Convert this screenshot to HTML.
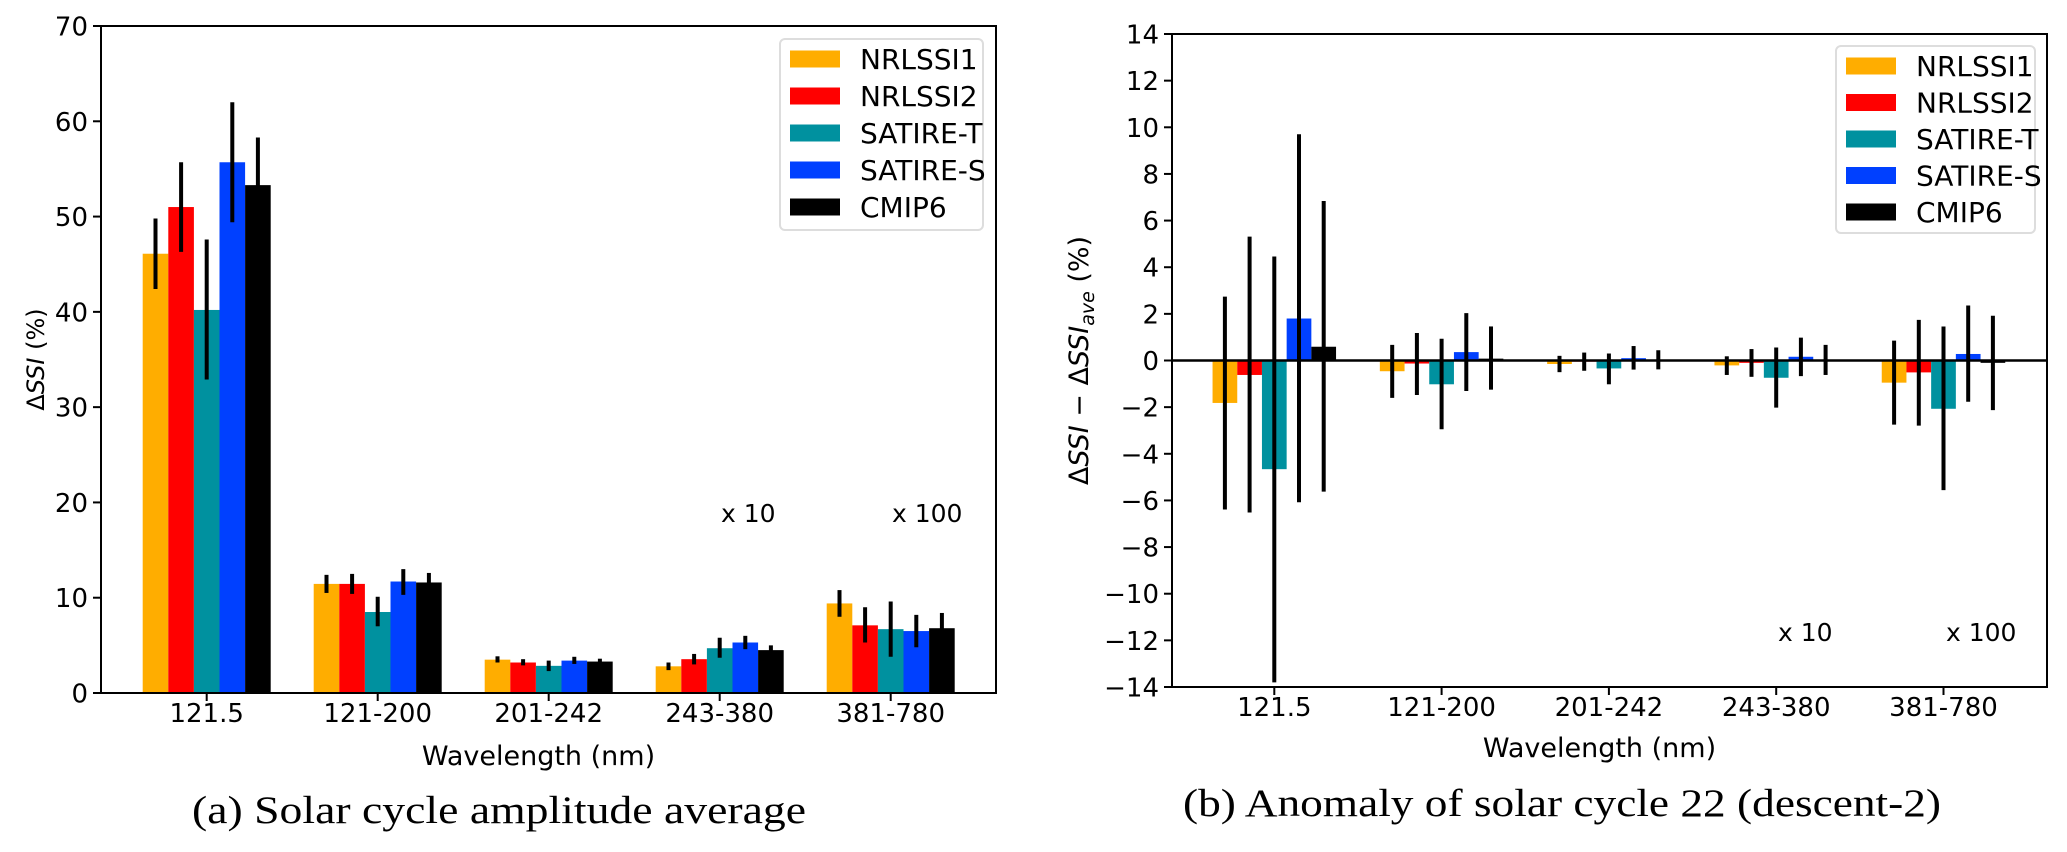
<!DOCTYPE html>
<html><head><meta charset="utf-8"><style>
html,body{margin:0;padding:0;background:#fff;}
svg{display:block;}
text{font-family:"DejaVu Sans","Liberation Sans",sans-serif;}
.cap{font-family:"Liberation Serif","DejaVu Serif",serif;}
</style></head><body>
<svg id="fig" width="2067" height="852" viewBox="0 0 2067 852" xmlns="http://www.w3.org/2000/svg">
<g id="pa"></g>
<g id="pb"></g>
<text class="cap" x="192" y="823" font-size="39" textLength="614" lengthAdjust="spacingAndGlyphs">(a)  Solar cycle amplitude average</text>
<text class="cap" x="1183" y="816" font-size="39" textLength="758" lengthAdjust="spacingAndGlyphs">(b)  Anomaly of solar cycle  22  (descent-2)</text>
</svg>
<script>
const categories = ["121.5","121-200","201-242","243-380","381-780"];
const seriesNames = ["NRLSSI1","NRLSSI2","SATIRE-T","SATIRE-S","CMIP6"];
const seriesColors = ["#ffad00","#ff0000","#00919f","#0040ff","#000000"];
// Panel (a): values, error lows, error highs  [series][category]
const aVals = [[46.1,11.45,3.5,2.8,9.4],[51.0,11.45,3.2,3.55,7.1],[40.2,8.5,2.85,4.7,6.7],[55.7,11.7,3.4,5.3,6.5],[53.3,11.6,3.3,4.5,6.8]];
const aLow  = [[42.4,10.5,3.2,2.4,8.0],[46.3,10.4,2.9,3.0,5.3],[32.9,7.0,2.3,3.7,3.8],[49.4,10.3,3.05,4.6,4.8],[48.3,10.6,3.0,3.8,5.2]];
const aHigh = [[49.8,12.4,3.85,3.2,10.8],[55.7,12.5,3.55,4.1,9.0],[47.6,10.1,3.4,5.8,9.6],[62.0,13.0,3.8,6.0,8.2],[58.3,12.6,3.6,5.0,8.4]];
const aTicks = [0,10,20,30,40,50,60,70];
// Panel (b)
const bVals = [[-1.82,-0.46,-0.15,-0.21,-0.95],[-0.62,-0.13,-0.05,-0.1,-0.51],[-4.66,-1.02,-0.34,-0.74,-2.07],[1.80,0.36,0.10,0.16,0.28],[0.59,0.08,0.0,0.0,-0.1]];
const bLow  = [[-6.39,-1.6,-0.5,-0.62,-2.75],[-6.52,-1.48,-0.44,-0.7,-2.79],[-13.8,-2.95,-1.02,-2.02,-5.56],[-6.08,-1.31,-0.39,-0.67,-1.77],[-5.62,-1.25,-0.38,-0.62,-2.13]];
const bHigh = [[2.74,0.67,0.2,0.18,0.85],[5.31,1.18,0.34,0.49,1.74],[4.46,0.93,0.3,0.56,1.46],[9.7,2.03,0.62,0.98,2.36],[6.84,1.46,0.44,0.67,1.92]];
const bTicks = [-14,-12,-10,-8,-6,-4,-2,0,2,4,6,8,10,12,14];
const scaleNotes = ["x 10","x 100"];

const NS="http://www.w3.org/2000/svg";
function mk(parent,tag,attrs,txt){const e=document.createElementNS(NS,tag);for(const k in attrs)e.setAttribute(k,attrs[k]);if(txt!==undefined)e.textContent=txt;parent.appendChild(e);return e;}

function drawPanel(g,cfg){
  const {L,R,T,B,ymin,ymax,first,step,bw,vals,lo,hi,ticks,zeroLine,legend,notes,ylab,ylabX,ylabFs,xlabY}=cfg;
  const y=v=>B-(v-ymin)/(ymax-ymin)*(B-T);
  const x=(ci,si)=>first+ci*step+(si-2)*bw;
  const base=y(Math.max(ymin,0));
  for(let s=0;s<vals.length;s++){
    for(let c=0;c<categories.length;c++){
      const v=vals[s][c];
      const r=mk(g,'rect',{x:x(c,s)-bw/2,y:Math.min(y(v),base),width:bw,height:Math.max(Math.abs(y(v)-base),0.5),fill:seriesColors[s]});
      
      
    }
  }
  for(let s=0;s<vals.length;s++){
    for(let c=0;c<categories.length;c++){
      const e=mk(g,'line',{x1:x(c,s),x2:x(c,s),y1:y(lo[s][c]),y2:y(hi[s][c]),stroke:'#000','stroke-width':4});
      
      
    }
  }
  if(zeroLine){const z=mk(g,'line',{x1:L,x2:R,y1:y(0),y2:y(0),stroke:'#000','stroke-width':2.5});
    }
  const fr=mk(g,'rect',{x:L,y:T,width:R-L,height:B-T,fill:'none',stroke:'#000','stroke-width':2});
  
  ticks.forEach(t=>{
    mk(g,'line',{x1:L-8,x2:L,y1:y(t),y2:y(t),stroke:'#000','stroke-width':2});
    const tx=mk(g,'text',{x:L-13,y:y(t)+9.5,'text-anchor':'end','font-size':26},t<0?'\u2212'+(-t):String(t));
    
  });
  categories.forEach((c,i)=>{
    const cx=first+i*step;
    mk(g,'line',{x1:cx,x2:cx,y1:B,y2:B+8,stroke:'#000','stroke-width':2});
    const tx=mk(g,'text',{x:cx,y:B+29,'text-anchor':'middle','font-size':26},c);
    
  });
  const xl=mk(g,'text',{x:(L+R)/2-10,y:B+xlabY,'text-anchor':'middle','font-size':27},'Wavelength (nm)');
  
  const yl=mk(g,'text',{x:0,y:0,'text-anchor':'middle','font-size':ylabFs,transform:`translate(${ylabX},${(T+B)/2}) rotate(-90)`});
  
  ylab.forEach(p=>{mk(yl,'tspan',p.a||{},p.t);});
  // legend
  const lb=mk(g,'rect',{x:legend.x,y:legend.y,width:legend.w,height:legend.h,rx:5,fill:'#fff','fill-opacity':0.9,stroke:'#ddd','stroke-width':2});
  
  seriesNames.forEach((n,i)=>{
    const cy=legend.y+20+i*legend.sp;
    const le=mk(g,'g',{});
    
    
    mk(le,'rect',{x:legend.x+10,y:cy-8.5,width:50,height:17,fill:seriesColors[i]});
    mk(le,'text',{x:legend.x+80,y:cy+10,'font-size':28},n);
  });
  notes.forEach((n,i)=>{
    const t=mk(g,'text',{x:n.x,y:n.y,'font-size':25},scaleNotes[i]);
    
  });
}

drawPanel(document.getElementById('pa'),{L:101,R:996,T:26,B:693,ymin:0,ymax:70,first:206.7,step:171,bw:25.6,
  vals:aVals,lo:aLow,hi:aHigh,ticks:aTicks,zeroLine:false,
  legend:{x:780,y:39,w:203,h:191,sp:37},
  notes:[{x:721,y:522},{x:892,y:522}],ylabX:44,ylabFs:24,xlabY:72,
  ylab:[{t:'\u0394'},{t:'SSI',a:{'font-style':'italic'}},{t:'  (%)'}]});

drawPanel(document.getElementById('pb'),{L:1172,R:2047,T:34,B:687,ymin:-14,ymax:14,first:1274.3,step:167.3,bw:24.7,
  vals:bVals,lo:bLow,hi:bHigh,ticks:bTicks,zeroLine:true,
  legend:{x:1836,y:46,w:199,h:187,sp:36.5},
  notes:[{x:1778,y:641},{x:1946,y:641}],ylabX:1088,ylabFs:27,xlabY:70,
  ylab:[{t:'\u0394'},{t:'SSI',a:{'font-style':'italic'}},{t:' \u2212 \u0394'},{t:'SSI',a:{'font-style':'italic'}},{t:'ave',a:{'font-style':'italic','font-size':19,dy:6}},{t:' (%)',a:{dy:-6}}]});
</script>
</body></html>
